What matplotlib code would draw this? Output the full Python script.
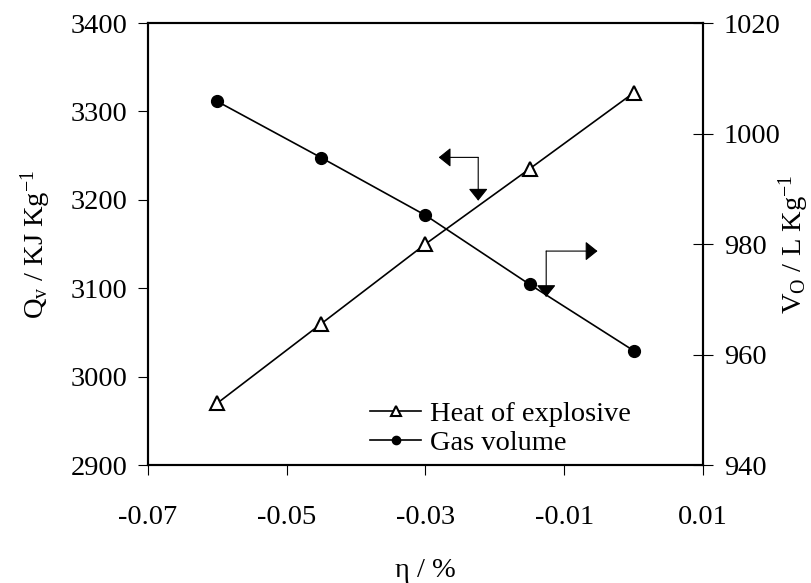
import matplotlib

matplotlib.use("Agg")
import matplotlib.pyplot as plt

plt.rcParams["font.family"] = ["Liberation Serif", "DejaVu Serif"]
plt.rcParams["mathtext.fontset"] = "custom"
plt.rcParams["mathtext.rm"] = "Liberation Serif"
plt.rcParams["mathtext.it"] = "Liberation Serif:italic"

# data
eta = [-0.06, -0.045, -0.03, -0.015, 0.0]
heat = [2970, 3060, 3150, 3235, 3321]          # Qv, kJ/kg (left axis)
gas = [1005.8, 995.6, 985.2, 972.7, 960.7]     # Vo, L/kg (right axis)

x_ticks = [-0.07, -0.05, -0.03, -0.01, 0.01]
q_ticks = [2900, 3000, 3100, 3200, 3300, 3400]
v_ticks = [940, 960, 980, 1000, 1020]

FS = 20.5

fig = plt.figure(figsize=(8.11, 5.83), dpi=100)
ax = fig.add_axes([0.1825, 0.2024, 0.6843, 0.7581])
ax2 = ax.twinx()

h1, = ax.plot(eta, heat, "-", color="k", lw=1.2, marker="^", ms=9.5,
              mfc="white", mec="k", mew=1.5, label="Heat of explosive")
h2, = ax2.plot(eta, gas, "-", color="k", lw=1.2, marker="o", ms=8.5,
               mfc="k", mec="k", label="Gas volume")

ax.set_xlim(-0.07, 0.01)
ax.set_ylim(2900, 3400)
ax2.set_ylim(940, 1020)
ax.set_xticks(x_ticks, [f"{v:g}" for v in x_ticks])
ax.set_yticks(q_ticks)
ax2.set_yticks(v_ticks)

for a in (ax, ax2):
    for s in a.spines.values():
        s.set_linewidth(1.5)
ax.tick_params(axis="x", direction="out", length=7, width=0.8, pad=22, labelsize=FS)
ax.tick_params(axis="y", direction="out", length=7, width=0.8, pad=8, labelsize=FS)
ax2.tick_params(axis="y", direction="inout", length=14, width=0.8, pad=8, labelsize=FS)

ax.set_xlabel("η / %", fontsize=FS, labelpad=20)
ax.set_ylabel(r"Q$_\mathrm{v}$ / KJ Kg$^{-1}$", fontsize=FS)
ax.yaxis.set_label_coords(-0.172, 0.5)
ax2.set_ylabel(r"V$_\mathrm{O}$ / L Kg$^{-1}$", fontsize=FS)
ax2.yaxis.set_label_coords(1.132, 0.5)

# bent arrows pointing to the axis each curve belongs to
arrow = dict(arrowstyle="-|>,head_length=0.75,head_width=0.6", color="k",
             lw=0.8, shrinkA=0, shrinkB=0)
ax.annotate("", xy=(-0.0281, 3248), xytext=(-0.0224, 3248), arrowprops=arrow)
ax.annotate("", xy=(-0.0224, 3199), xytext=(-0.0224, 3248), arrowprops=arrow)
ax.annotate("", xy=(-0.0126, 3090), xytext=(-0.0126, 3142), arrowprops=arrow)
ax.annotate("", xy=(-0.0052, 3142), xytext=(-0.0126, 3142), arrowprops=arrow)

ax.legend([h1, h2], [h1.get_label(), h2.get_label()], loc="lower left",
          bbox_to_anchor=(0.40, 0.02), frameon=False, fontsize=FS,
          handlelength=1.8, handletextpad=0.3, labelspacing=0.1,
          borderaxespad=0, borderpad=0, markerscale=0.7)

fig.savefig("out.png", dpi=100)
